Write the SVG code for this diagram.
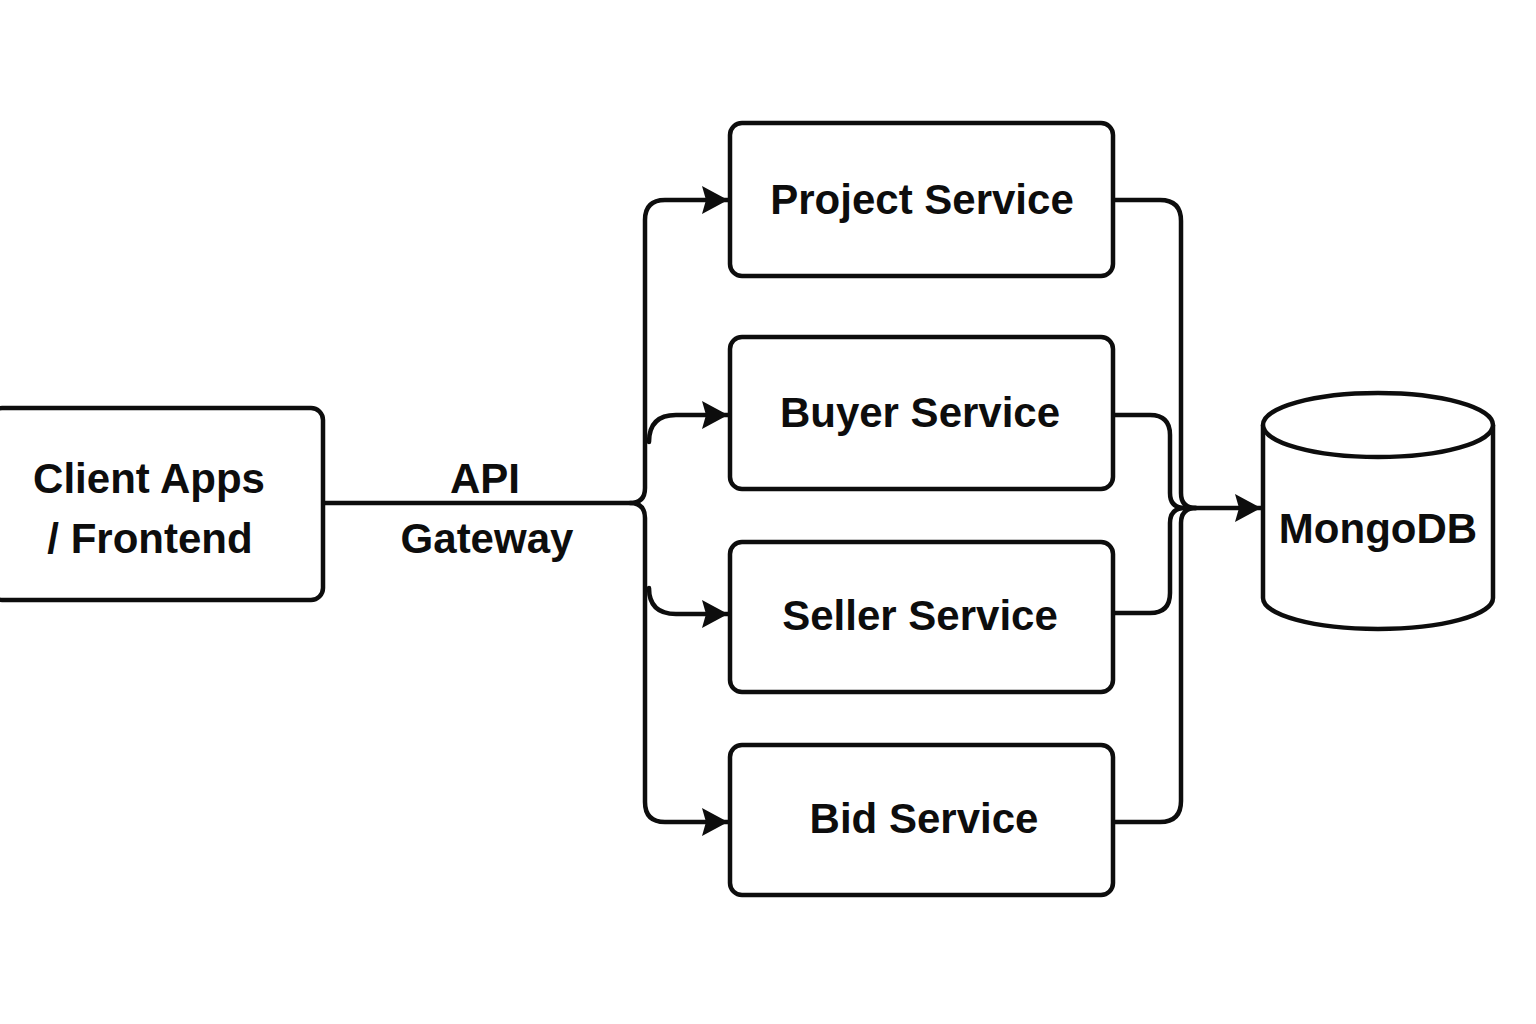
<svg xmlns="http://www.w3.org/2000/svg" width="1536" height="1024" viewBox="0 0 1536 1024">
<style>
.box{fill:#fff;stroke:#0d0d0d;stroke-width:4.5}
.ln{fill:none;stroke:#0d0d0d;stroke-width:4.5;stroke-linecap:round;stroke-linejoin:round}
.t{font-family:"Liberation Sans",Arial,sans-serif;font-weight:bold;font-size:42px;fill:#0d0d0d;text-anchor:middle}
</style>
<defs>
<marker id="arr" markerWidth="26" markerHeight="28" refX="26" refY="14" orient="auto" markerUnits="userSpaceOnUse">
<path d="M0,0 L26,14 L0,28 L4,14 Z" fill="#0d0d0d"/>
</marker>
</defs>
<rect width="1536" height="1024" fill="#fff"/>
<g id="connectors">
<path class="ln" d="M323,503 H630 Q645,503 645,488 V220 Q645,200 665,200 H728" marker-end="url(#arr)"/>
<path class="ln" d="M630,503 Q645,503 645,518 V802 Q645,822 665,822 H728" marker-end="url(#arr)"/>
<path class="ln" d="M649,442 Q649,415 676,415 H728" marker-end="url(#arr)"/>
<path class="ln" d="M649,588 Q649,614 676,614 H728" marker-end="url(#arr)"/>
<path class="ln" d="M1113,200 H1160 Q1181,200 1181,221 V493 Q1181,508 1196,508"/>
<path class="ln" d="M1113,415 H1150 Q1170,415 1170,435 V493 Q1170,508 1185,508"/>
<path class="ln" d="M1113,613 H1150 Q1170,613 1170,593 V523 Q1170,508 1185,508"/>
<path class="ln" d="M1113,822 H1160 Q1181,822 1181,801 V523 Q1181,508 1196,508"/>
<path class="ln" d="M1185,508 H1261" marker-end="url(#arr)"/>
</g>
<g id="client">
<rect class="box" x="-10" y="408" width="333" height="192" rx="12"/>
<text class="t" x="149" y="493">Client Apps</text>
<text class="t" x="150" y="553">/ Frontend</text>
</g>
<g id="gateway-label">
<text class="t" x="485" y="493">API</text>
<text class="t" x="487" y="553">Gateway</text>
</g>
<g id="project">
<rect class="box" x="730" y="123" width="383" height="153" rx="12"/>
<text class="t" x="922" y="214">Project Service</text>
</g>
<g id="buyer">
<rect class="box" x="730" y="337" width="383" height="152" rx="12"/>
<text class="t" x="920" y="427">Buyer Service</text>
</g>
<g id="seller">
<rect class="box" x="730" y="542" width="383" height="150" rx="12"/>
<text class="t" x="920" y="630">Seller Service</text>
</g>
<g id="bid">
<rect class="box" x="730" y="745" width="383" height="150" rx="12"/>
<text class="t" x="924" y="833">Bid Service</text>
</g>
<g id="mongodb">
<path class="box" d="M1263,425 V598 A115,31 0 0 0 1493,598 V425"/>
<ellipse class="box" cx="1378" cy="425" rx="115" ry="32"/>
<text class="t" x="1378" y="543">MongoDB</text>
</g>
</svg>
